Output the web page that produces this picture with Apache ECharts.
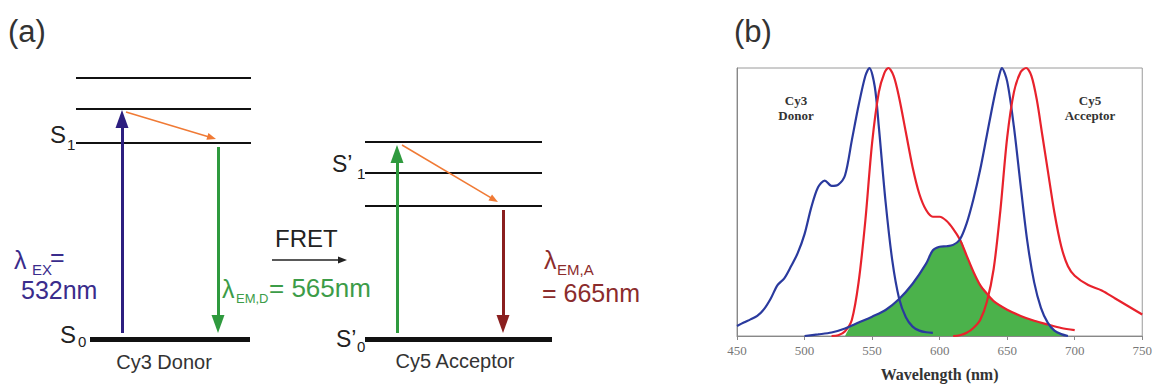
<!DOCTYPE html>
<html><head><meta charset="utf-8">
<script src="https://cdn.jsdelivr.net/npm/echarts@6/dist/echarts.min.js"></script>
<style>html,body{margin:0;padding:0;background:#fff}#c{width:1155px;height:387px}</style>
</head><body><div id="c"></div>
<script>
// ---------- Panel (b): spectra, [wavelength nm, normalized intensity] ----------
const wavelengthTicks = [450, 500, 550, 600, 650, 700, 750];
const cy3Absorption = [[450,0.037],[455,0.05],[460,0.062],[465,0.075],[470,0.1],[475,0.14],[480,0.19],[485,0.215],[490,0.26],[495,0.31],[500,0.38],[505,0.48],[510,0.555],[515,0.58],[520,0.56],[525,0.565],[530,0.6],[535,0.73],[540,0.86],[545,0.97],[548,1.0],[552,0.93],[555,0.78],[560,0.5],[565,0.28],[570,0.14],[575,0.07],[580,0.035],[585,0.02],[590,0.014],[595,0.012]];
const cy3Emission = [[520,0],[525,0.003],[530,0.018],[535,0.06],[540,0.2],[545,0.43],[550,0.72],[555,0.91],[559,0.98],[562,1.0],[566,0.97],[570,0.89],[575,0.76],[580,0.63],[585,0.53],[590,0.47],[595,0.445],[600,0.445],[605,0.43],[610,0.40],[615,0.36],[620,0.30],[625,0.24],[630,0.19],[635,0.158],[640,0.13],[650,0.098],[660,0.075],[670,0.057],[680,0.043],[690,0.03],[700,0.022]];
const cy5Absorption = [[500,0],[510,0.006],[520,0.013],[530,0.028],[540,0.05],[550,0.072],[560,0.097],[570,0.138],[580,0.195],[590,0.27],[595,0.32],[600,0.333],[605,0.335],[610,0.34],[615,0.36],[620,0.42],[625,0.51],[630,0.62],[635,0.75],[640,0.88],[644,0.97],[646,1.0],[650,0.95],[655,0.78],[660,0.56],[665,0.35],[670,0.2],[675,0.105],[680,0.05],[685,0.02],[690,0.007],[695,0]];
const cy5Emission = [[610,0],[615,0.003],[620,0.012],[625,0.03],[630,0.06],[635,0.128],[640,0.25],[645,0.47],[650,0.74],[655,0.91],[660,0.985],[664,1.0],[668,0.97],[672,0.88],[676,0.75],[680,0.62],[685,0.46],[690,0.335],[695,0.26],[700,0.225],[710,0.19],[720,0.17],[730,0.14],[740,0.11],[750,0.08]];
const spectralOverlap = [[530,0],[532,0.02],[535,0.04],[540,0.05],[545,0.061],[550,0.072],[555,0.084],[560,0.097],[565,0.116],[570,0.138],[575,0.165],[580,0.195],[585,0.23],[590,0.27],[595,0.32],[600,0.333],[605,0.335],[610,0.34],[615,0.36],[620,0.30],[625,0.24],[630,0.19],[635,0.158],[640,0.13],[645,0.112],[650,0.098],[655,0.086],[660,0.075],[665,0.066],[670,0.057],[675,0.049],[680,0.043],[685,0.02],[690,0.007],[692,0]];

// ---------- Panel (a): Jablonski diagram (diagram units; ground state energy = 0) ----------
const groundLevel = 0;
const donorLevels = [196, 230, 261];
const acceptorLevels = [133, 166, 197];
const donorSpan = [76, 251], donorGroundSpan = [90, 250];
const acceptorSpan = [365, 542], acceptorGroundSpan = [365, 552];
const thickArrows = [
  { from: [122, 6],   to: [122, 220], color: '#2d1f80' },  // excitation 532 nm
  { from: [218, 192], to: [218, 15],  color: '#2f9a3e' },  // donor emission
  { from: [397, 6],   to: [397, 185], color: '#2f9a3e' },  // acceptor excitation
  { from: [503, 129], to: [503, 15],  color: '#8a1f1f' }   // acceptor emission
];
const thinArrows = [
  { from: [126, 227], to: [211.7, 201.3], color: '#f07a35' },
  { from: [402, 194], to: [494.1, 139.3], color: '#f07a35' },
  { from: [272, 79],  to: [342.5, 79],   color: '#222222' }   // FRET
];

const levelLines = [];
donorLevels.forEach(v => levelLines.push({ coords: [[donorSpan[0], v], [donorSpan[1], v]] }));
acceptorLevels.forEach(v => levelLines.push({ coords: [[acceptorSpan[0], v], [acceptorSpan[1], v]] }));
const groundLines = [
  { coords: [[donorGroundSpan[0], groundLevel], [donorGroundSpan[1], groundLevel]] },
  { coords: [[acceptorGroundSpan[0], groundLevel], [acceptorGroundSpan[1], groundLevel]] }
];
const toLines = arr => arr.map(a => ({ coords: [a.from, a.to], lineStyle: { color: a.color } }));

const SANS = '"Liberation Sans", Arial, Helvetica, sans-serif';
const SERIF = '"Liberation Serif", "Times New Roman", serif';
function t(x, y, text, size, color, align, font, weight) {
  return { type: 'text', x: x, y: y, z: 100, style: {
    text: text, fill: color, align: align || 'left', verticalAlign: 'middle',
    font: (weight || 'normal') + ' ' + size + 'px ' + (font || SANS) } };
}
const NAVY = '#3a2c8c', GREEN = '#3c9c48', DRED = '#8b2c2c';

const chart = echarts.init(document.getElementById('c'), null, { renderer: 'svg' });
chart.setOption({
  animation: false,
  backgroundColor: '#fff',
  grid: [
    { left: 0, top: 0, width: 700, height: 387, show: false },
    { left: 737, top: 68, right: 9, bottom: 45, show: true, borderColor: '#9a9a9a', borderWidth: 1 }
  ],
  xAxis: [
    { gridIndex: 0, type: 'value', min: 0, max: 700, show: false },
    { gridIndex: 1, type: 'value', min: 450, max: 750, interval: 50,
      axisLine: { show: true, lineStyle: { color: '#888', width: 1 } },
      axisTick: { show: true, length: 4, lineStyle: { color: '#888' } },
      splitLine: { show: false },
      axisLabel: { color: '#777', fontFamily: SERIF, fontSize: 13, margin: 8,
        formatter: v => wavelengthTicks.includes(v) ? String(v) : '' },
      name: 'Wavelength (nm)', nameLocation: 'middle', nameGap: 30,
      nameTextStyle: { fontFamily: SERIF, fontWeight: 'bold', fontSize: 16, color: '#333' } }
  ],
  yAxis: [
    { gridIndex: 0, type: 'value', min: -48, max: 339, show: false },
    { gridIndex: 1, type: 'value', min: 0, max: 1,
      axisLine: { show: true, lineStyle: { color: '#888' } },
      axisTick: { show: false }, axisLabel: { show: false }, splitLine: { show: false } }
  ],
  series: [
    // panel (a)
    { type: 'lines', coordinateSystem: 'cartesian2d', xAxisIndex: 0, yAxisIndex: 0,
      data: levelLines, symbol: 'none', lineStyle: { color: '#111', width: 2.2, opacity: 1 } },
    { type: 'lines', coordinateSystem: 'cartesian2d', xAxisIndex: 0, yAxisIndex: 0,
      data: groundLines, symbol: 'none', lineStyle: { color: '#111', width: 5, opacity: 1 } },
    { type: 'lines', coordinateSystem: 'cartesian2d', xAxisIndex: 0, yAxisIndex: 0,
      data: toLines(thickArrows), symbol: ['none', 'triangle'], symbolSize: [[13, 18], [13, 18]],
      lineStyle: { width: 3, opacity: 1 } },
    { type: 'lines', coordinateSystem: 'cartesian2d', xAxisIndex: 0, yAxisIndex: 0,
      data: toLines(thinArrows), symbol: ['none', 'triangle'], symbolSize: [[7, 9], [7, 9]],
      lineStyle: { width: 1.5, opacity: 1 } },
    // panel (b)
    { name: 'overlap', type: 'line', xAxisIndex: 1, yAxisIndex: 1, data: spectralOverlap,
      smooth: 0.3, symbol: 'none', lineStyle: { width: 0 }, areaStyle: { color: '#4bb24b', opacity: 1 } },
    { name: 'Cy3 absorption', type: 'line', xAxisIndex: 1, yAxisIndex: 1, data: cy3Absorption,
      smooth: 0.3, symbol: 'none', clip: false, lineStyle: { color: '#2a3a9e', width: 2.2 } },
    { name: 'Cy3 emission', type: 'line', xAxisIndex: 1, yAxisIndex: 1, data: cy3Emission,
      smooth: 0.3, symbol: 'none', clip: false, lineStyle: { color: '#e8222c', width: 2.2 } },
    { name: 'Cy5 absorption', type: 'line', xAxisIndex: 1, yAxisIndex: 1, data: cy5Absorption,
      smooth: 0.3, symbol: 'none', clip: false, lineStyle: { color: '#2a3a9e', width: 2.2 } },
    { name: 'Cy5 emission', type: 'line', xAxisIndex: 1, yAxisIndex: 1, data: cy5Emission,
      smooth: 0.3, symbol: 'none', clip: false, lineStyle: { color: '#e8222c', width: 2.2 } }
  ],
  graphic: [
    t(8, 31, '(a)', 31, '#333'),
    t(734, 31, '(b)', 31, '#333'),
    // donor labels
    t(50, 134, 'S', 24, '#222'), t(67, 144, '1', 15, '#222'),
    t(60, 334, 'S', 24, '#222'), t(78, 341, '0', 15, '#222'),
    t(164, 362, 'Cy3 Donor', 20, '#333', 'center'),
    // acceptor labels
    t(332, 164, 'S’', 23, '#222'), t(357, 173, '1', 15, '#222'),
    t(336, 339, 'S’', 23, '#222'), t(357, 346, '0', 15, '#222'),
    t(455, 361, 'Cy5 Acceptor', 20, '#333', 'center'),
    // FRET
    t(275, 238, 'FRET', 24, '#222'),
    // wavelengths
    t(14, 260, 'λ', 25, NAVY), t(32, 269, 'EX', 15, NAVY), t(50, 257, '=', 25, NAVY),
    t(21, 290, '532nm', 25, NAVY),
    t(222, 289, 'λ', 25, GREEN), t(236, 298, 'EM,D', 13, GREEN), t(269, 288, '= 565nm', 26, GREEN),
    t(544, 260, 'λ', 25, DRED), t(557, 269, 'EM,A', 15, DRED), t(542, 293, '= 665nm', 25, DRED),
    // spectra labels
    t(796, 100, 'Cy3', 13, '#333', 'center', SERIF, 'bold'),
    t(796, 115, 'Donor', 13, '#333', 'center', SERIF, 'bold'),
    t(1090, 100, 'Cy5', 13, '#333', 'center', SERIF, 'bold'),
    t(1090, 115, 'Acceptor', 13, '#333', 'center', SERIF, 'bold')
  ]
});
</script></body></html>
